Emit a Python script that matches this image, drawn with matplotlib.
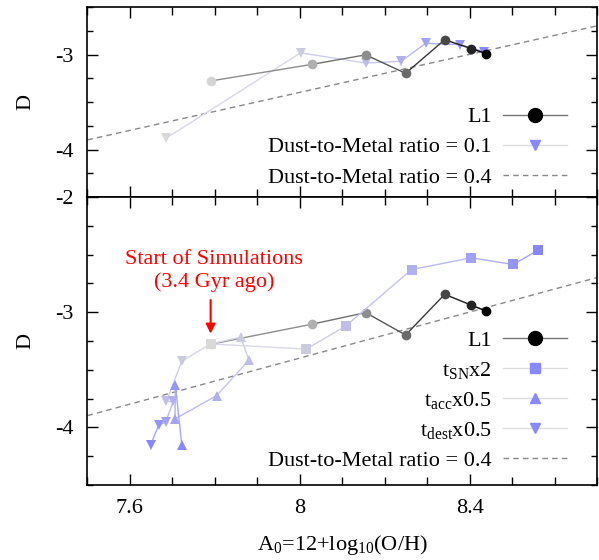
import numpy as np
import matplotlib
matplotlib.use("Agg")
import matplotlib.pyplot as plt
from matplotlib.ticker import MultipleLocator, FormatStrFormatter
from matplotlib.lines import Line2D

plt.rcParams['font.family'] = ['Liberation Serif', 'DejaVu Serif']
plt.rcParams['mathtext.fontset'] = 'custom'
plt.rcParams['mathtext.rm'] = 'Liberation Serif'
plt.rcParams['mathtext.it'] = 'Liberation Serif:italic'
plt.rcParams['mathtext.default'] = 'rm'
plt.rcParams['axes.unicode_minus'] = False
plt.rcParams['font.size'] = 16

# fiducial run L1 (same in both panels)
l1_x = [7.790, 8.028, 8.155, 8.249, 8.341, 8.404, 8.439]
l1_y = [-3.278, -3.104, -3.003, -3.198, -2.844, -2.939, -2.990]

# dust-to-metal ratio = 0.1 run (top panel)
dtm01_x = [7.686, 8.002, 8.156, 8.239, 8.296, 8.378, 8.433]
dtm01_y = [-3.878, -2.982, -3.090, -3.070, -2.882, -2.896, -2.970]

# timescale variations (bottom panel)
tsn_x = [7.790, 8.015, 8.108, 8.263, 8.404, 8.502, 8.561]
tsn_y = [-3.275, -3.320, -3.120, -2.629, -2.527, -2.585, -2.461]

tacc_x = [7.790, 7.861, 7.880, 7.804, 7.706, 7.707, 7.722]
tacc_y = [-3.275, -3.215, -3.417, -3.724, -3.927, -3.635, -4.150]

tdest_x = [7.790, 7.722, 7.686, 7.702, 7.684, 7.668, 7.649]
tdest_y = [-3.275, -3.426, -3.774, -3.774, -3.956, -3.977, -4.150]

# constant dust-to-metal ratio line
dtm_ratio = 0.4
line_x = np.array([7.5, 8.7])
line_y = np.log10(dtm_ratio) + line_x - 11.0

start_x, start_y = 7.790, -3.275


def grey_ramp(n):
    g = np.linspace(0.83, 0.0, n)
    return [(v, v, v) for v in g]


def blue_ramp(n):
    c0 = np.array([0.85, 0.85, 0.85])
    c1 = np.array([0.53, 0.53, 1.0])
    return [tuple(c0 + (c1 - c0) * t) for t in np.linspace(0, 1, n)]


def track(ax, x, y, cols, marker, ms, line_cols, z=2):
    for i in range(len(x) - 1):
        ax.plot(x[i:i + 2], y[i:i + 2], '-', color=line_cols[i + 1], lw=1.0, zorder=z)
    for i in range(len(x)):
        ax.plot(x[i], y[i], marker, color=cols[i], ms=ms, mew=0, zorder=z + 0.5)


def lighten(cols, f):
    return [tuple(np.array(c) + (1 - np.array(c)) * f) for c in cols]


def darken(cols, f):
    return [tuple(np.array(c) * f) for c in cols]


fig = plt.figure(figsize=(5.99, 5.6), dpi=100)
ax1 = fig.add_axes([0.146, 0.648, 0.851, 0.3395])
ax2 = fig.add_axes([0.146, 0.134, 0.851, 0.514])

for ax in (ax1, ax2):
    ax.plot(line_x, line_y, '--', color='#888888', lw=1.0, dashes=(4, 3), zorder=1)
    ax.set_xlim(7.5, 8.7)
    ax.xaxis.set_major_locator(MultipleLocator(0.4))
    ax.xaxis.set_minor_locator(MultipleLocator(0.1))
    ax.yaxis.set_major_locator(MultipleLocator(1))
    ax.yaxis.set_minor_locator(MultipleLocator(0.25))
    ax.yaxis.set_major_formatter(FormatStrFormatter('%g'))
    ax.xaxis.set_major_formatter(FormatStrFormatter('%g'))
    ax.tick_params(which='both', direction='in', top=True, right=True, width=1.0)
    ax.tick_params(which='major', length=8)
    ax.tick_params(which='minor', length=4)
    ax.tick_params(axis='x', which='minor', length=6)
    ax.tick_params(axis='y', which='major', pad=10)
    ax.tick_params(axis='x', which='major', pad=10)
    for s in ax.spines.values():
        s.set_linewidth(1.2)
    ax.set_ylabel('D', labelpad=14)

# top panel
ax1.set_ylim(-4.5, -2.5)
ax1.tick_params(labelbottom=False)
gr = grey_ramp(len(l1_x))
bl = blue_ramp(len(dtm01_x))
track(ax1, dtm01_x, dtm01_y, bl, 'v', 7, lighten(bl, 0.25), z=2)
track(ax1, l1_x, l1_y, gr, 'o', 7, darken(gr, 0.8), z=4)

h1 = [Line2D([], [], color='#777777', lw=1.0, marker='o', ms=10, mfc='black', mec='black'),
      Line2D([], [], color='#dddddd', lw=1.0, marker='v', ms=7, mfc='#8888ff', mec='#8888ff'),
      Line2D([], [], color='#888888', lw=1.0, ls='--', dashes=(4, 3))]
ax1.legend(h1, ['L1', 'Dust-to-Metal ratio = 0.1', 'Dust-to-Metal ratio = 0.4'],
           loc='upper right', bbox_to_anchor=(0.941, 0.475), frameon=False,
           markerfirst=False, handlelength=2.9, handletextpad=0.5,
           borderpad=0, borderaxespad=0, labelspacing=0.43)

# bottom panel
ax2.set_ylim(-4.5, -2.0)
ax2.set_xlabel('A$_0$=12+log$_{10}$(O/H)', labelpad=11)
track(ax2, l1_x, l1_y, gr, 'o', 7, darken(gr, 0.8), z=2)
for xs, ys, mk in ((tacc_x, tacc_y, '^'), (tdest_x, tdest_y, 'v'), (tsn_x, tsn_y, 's')):
    cb = blue_ramp(len(xs))
    track(ax2, xs, ys, cb, mk, 7 if mk != 's' else 6.5, lighten(cb, 0.25), z=3)

ax2.annotate('', xy=(start_x, -3.21), xytext=(start_x, -2.87),
             arrowprops=dict(arrowstyle='-|>', color='red', lw=1.5, mutation_scale=14))
ax2.text(7.798, -2.64, 'Start of Simulations\n(3.4 Gyr ago)', color='red',
         ha='center', va='center', linespacing=1.25)

h2 = [Line2D([], [], color='#777777', lw=1.0, marker='o', ms=10, mfc='black', mec='black'),
      Line2D([], [], color='#dddddd', lw=1.0, marker='s', ms=7, mfc='#8888ff', mec='#8888ff'),
      Line2D([], [], color='#dddddd', lw=1.0, marker='^', ms=7, mfc='#8888ff', mec='#8888ff'),
      Line2D([], [], color='#dddddd', lw=1.0, marker='v', ms=7, mfc='#8888ff', mec='#8888ff'),
      Line2D([], [], color='#888888', lw=1.0, ls='--', dashes=(4, 3))]
ax2.legend(h2, ['L1', 't$_{SN}$x2', 't$_{acc}$x0.5', 't$_{dest}$x0.5',
                'Dust-to-Metal ratio = 0.4'],
           loc='upper right', bbox_to_anchor=(0.941, 0.538), frameon=False,
           markerfirst=False, handlelength=2.9, handletextpad=0.5,
           borderpad=0, borderaxespad=0, labelspacing=0.41)

fig.savefig('out.png', dpi=100)
